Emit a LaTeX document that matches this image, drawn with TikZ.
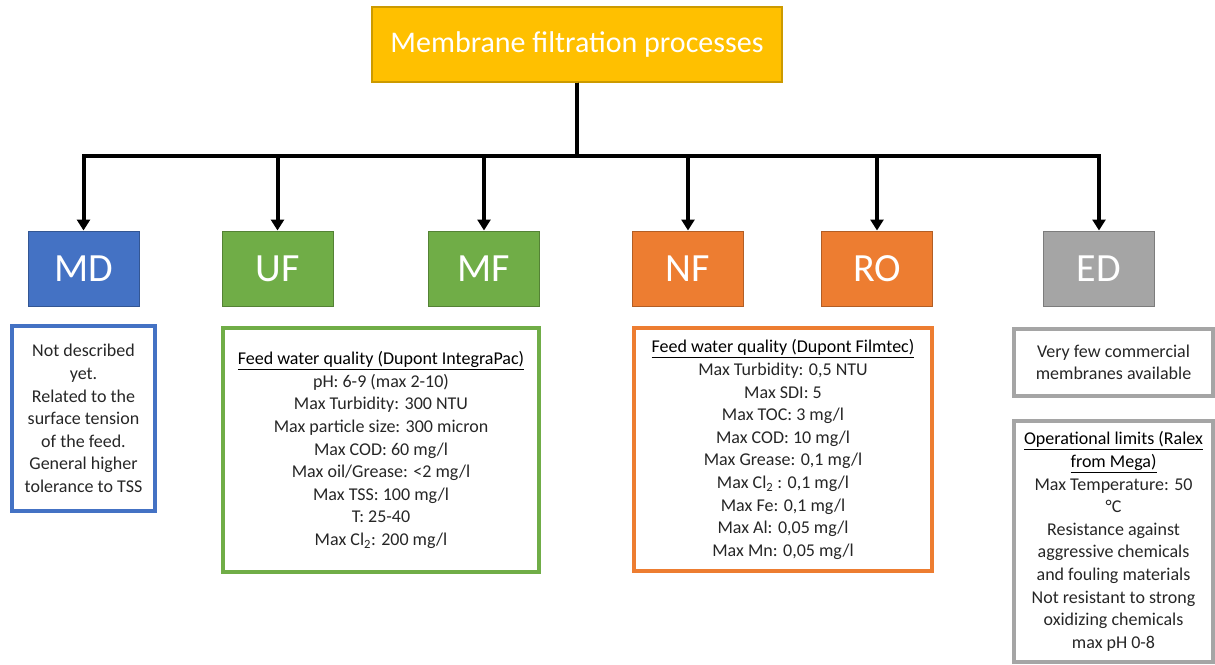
\documentclass[tikz,border=0pt]{standalone}
\usepackage{fontspec}
\setmainfont{Carlito}
\usetikzlibrary{arrows.meta,positioning}
\definecolor{mfgold}{HTML}{FFC000}
\definecolor{mfblue}{HTML}{4472C4}
\definecolor{mfgreen}{HTML}{70AD47}
\definecolor{mforange}{HTML}{ED7D31}
\definecolor{mfgray}{HTML}{A5A5A5}
\newcommand{\mfhead}[1]{\textcolor{black}{\underline{#1}}}

\begin{document}
\begin{tikzpicture}[x=1pt, y=-1pt,
            process/.style={rectangle, draw=#1!75!black, fill=#1, text=white, line width=1pt,
            minimum width=111pt, minimum height=75pt, font=\fontsize{40}{48}\selectfont},
            info/.style={rectangle, draw=#1, line width=3.5pt, align=center, inner sep=0pt,
            text=black!85, font=\fontsize{18}{22.6}\selectfont},
            link/.style={line width=4pt, -{Triangle[length=11pt,width=13pt]}}]
            \useasboundingbox (0,0) rectangle (1215,664);
            \node (title) [rectangle, draw=mfgold!80!black, fill=mfgold, line width=1.2pt, text=white,
                minimum width=410pt, minimum height=75pt, font=\fontsize{30}{36}\selectfont]
                at (577,44.5) {Membrane filtration processes};
            \node (md) [process=mfblue] at (83.5,268.5) {MD};
            \node (uf) [process=mfgreen] at (277.5,268.5) {UF};
            \node (mf) [process=mfgreen] at (484,268.5) {MF};
            \node (nf) [process=mforange] at (688,268.5) {NF};
            \node (ro) [process=mforange] at (877,268.5) {RO};
            \node (ed) [process=mfgray] at (1099,268.5) {ED};
            \coordinate (bus) at (577,156);
            \foreach \n in {md,uf,mf,nf,ro,ed}
                \draw[link] (title.south) -- (bus) -| (\n.north);
            \node (mdtext) [info=mfblue, minimum width=143pt, minimum height=185pt] at (83.5,418.5)
            {
                Not described\\
                yet.\\
                Related to the\\
                surface tension\\
                of the feed.\\
                General higher\\
                tolerance to TSS
            };
            \node (uftext) [info=mfgreen, minimum width=316pt, minimum height=244pt] at (381,450)
            {
                \mfhead{Feed water quality (Dupont IntegraPac)}\\
                pH: 6-9 (max 2-10)\\
                Max Turbidity: 300 NTU\\
                Max particle size: 300 micron\\
                Max COD: 60 mg/l\\
                Max oil/Grease: <2 mg/l\\
                Max TSS: 100 mg/l\\
                T: 25-40\\
                Max Cl\textsubscript{2}: 200 mg/l
            };
            \node (nftext) [info=mforange, minimum width=298pt, minimum height=243pt] at (783,449.5)
            {
                \mfhead{Feed water quality (Dupont Filmtec)}\\
                Max Turbidity: 0,5 NTU\\
                Max SDI: 5\\
                Max TOC: 3 mg/l\\
                Max COD: 10 mg/l\\
                Max Grease: 0,1 mg/l\\
                Max Cl\textsubscript{2} : 0,1 mg/l\\
                Max Fe: 0,1 mg/l\\
                Max Al: 0,05 mg/l\\
                Max Mn: 0,05 mg/l
            };
            \node (edtext) [info=mfgray, minimum width=199pt, minimum height=67pt] at (1113.5,362.5)
            {
                Very few commercial\\
                membranes available
            };
            \node (edlimits) [info=mfgray, minimum width=199pt, minimum height=241pt] at (1113.5,541.5)
            {
                \mfhead{Operational limits (Ralex}\\
                \mfhead{from Mega)}\\
                Max Temperature: 50\\
                °C\\
                Resistance against\\
                aggressive chemicals\\
                and fouling materials\\
                Not resistant to strong\\
                oxidizing chemicals\\
                max pH 0-8
            };
        \end{tikzpicture}
\end{document}
